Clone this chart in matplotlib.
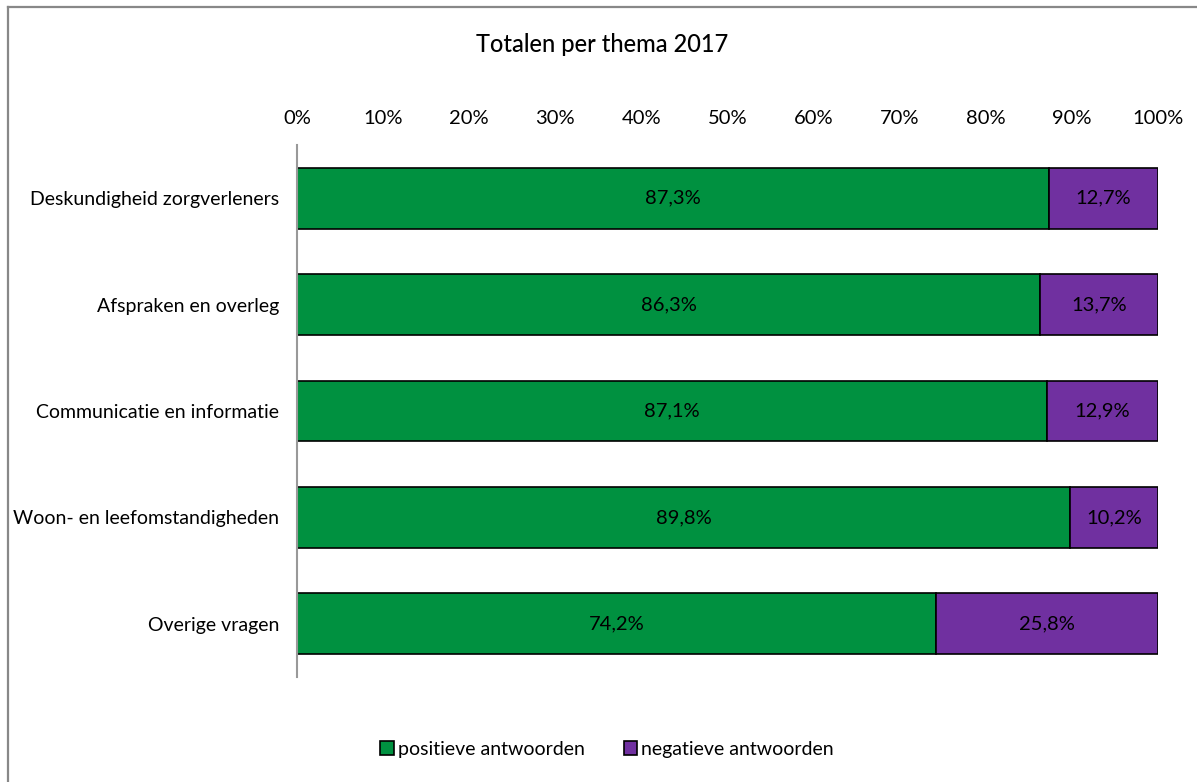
import matplotlib
matplotlib.use("Agg")
import matplotlib.pyplot as plt
from matplotlib.lines import Line2D
from matplotlib.ticker import PercentFormatter

plt.rcParams['font.family'] = ['Lato', 'DejaVu Sans']

categories = [
    "Deskundigheid zorgverleners",
    "Afspraken en overleg",
    "Communicatie en informatie",
    "Woon- en leefomstandigheden",
    "Overige vragen",
]
positief = [87.3, 86.3, 87.1, 89.8, 74.2]
negatief = [12.7, 13.7, 12.9, 10.2, 25.8]
series_names = ["positieve antwoorden", "negatieve antwoorden"]
colors = ["#009140", "#7030A0"]

fig = plt.figure(figsize=(11.97, 7.82), dpi=100)
W, H = 1197, 782

# chart-area border (left and top edges)
x0, y0 = 8 / W, 1 - 7 / H
fig.add_artist(Line2D([x0, x0], [0, y0], transform=fig.transFigure,
                      color="#888888", linewidth=1.6))
fig.add_artist(Line2D([x0, 1], [y0, y0], transform=fig.transFigure,
                      color="#888888", linewidth=1.6))

ax = fig.add_axes([297 / W, 1 - 677 / H, (1158 - 297) / W, (677 - 145) / H])

y = list(range(len(categories)))
bars_pos = ax.barh(y, positief, height=0.57, color=colors[0],
                   edgecolor="black", linewidth=1.2, label=series_names[0])
bars_neg = ax.barh(y, negatief, left=positief, height=0.57, color=colors[1],
                   edgecolor="black", linewidth=1.2, label=series_names[1])

def fmt(v):
    return f"{v:.1f}%".replace(".", ",")

for i in y:
    ax.text(positief[i] / 2, i, fmt(positief[i]), ha="center", va="center",
            fontsize=14.5, color="black")
    ax.text(positief[i] + negatief[i] / 2, i, fmt(negatief[i]), ha="center",
            va="center", fontsize=14.5, color="black")

ax.set_xlim(0, 100)
ax.set_ylim(len(categories) - 0.5, -0.5)
ax.set_yticks(y)
ax.set_yticklabels(categories, fontsize=14)
ax.set_xticks(range(0, 101, 10))
ax.xaxis.set_major_formatter(PercentFormatter(decimals=0))
ax.xaxis.tick_top()
ax.tick_params(axis="x", length=0, labelsize=14.5, pad=13)
ax.tick_params(axis="y", length=0, pad=13)
for s in ["top", "right", "bottom"]:
    ax.spines[s].set_visible(False)
ax.spines["left"].set_color("#999999")
ax.spines["left"].set_linewidth(1.5)

fig.text(602 / W, 1 - 45 / H, "Totalen per thema 2017", ha="center",
         va="center", fontsize=17, fontweight="medium")

leg = fig.legend(handles=[bars_pos, bars_neg], loc="center",
                 bbox_to_anchor=(607 / W, 1 - 749 / H), ncol=2, frameon=False,
                 fontsize=14, handlelength=0.7, handleheight=0.7,
                 handletextpad=0.2, columnspacing=2.0)

fig.savefig("out.png", dpi=100)
